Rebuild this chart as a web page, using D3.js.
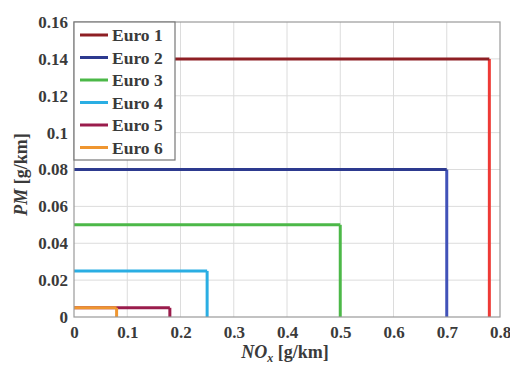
<!DOCTYPE html>
<html>
<head>
<meta charset="utf-8">
<script src="https://cdn.jsdelivr.net/npm/d3@7"></script>
<style>
  body { margin: 0; background: #fff; }
</style>
</head>
<body>
<svg id="chart" width="510" height="365"></svg>
<script>
const labels = ["Euro 1", "Euro 2", "Euro 3", "Euro 4", "Euro 5", "Euro 6"]
const noxLimits = [0.78, 0.7, 0.5, 0.25, 0.18, 0.08]
const pmLimits = [0.14, 0.08, 0.05, 0.025, 0.005, 0.005]
const colours = ["#8e1f24", "#2d3a8f", "#4cb848", "#2aaee3", "#9a1c4c", "#ef9630"]
const verticalColours = ["#ee3a36", "#4152b8", "#4cb848", "#2aaee3", "#9a1c4c", "#ef9630"]
const xTicks = [0, 0.1, 0.2, 0.3, 0.4, 0.5, 0.6, 0.7, 0.8]
const yTicks = [0, 0.02, 0.04, 0.06, 0.08, 0.1, 0.12, 0.14, 0.16]

const font = "'Liberation Serif', 'Times New Roman', Times, serif"
const textColour = "#3a3a3a"

const margin = { left: 74, right: 10, top: 22, bottom: 48 }
const width = 510 - margin.left - margin.right
const height = 365 - margin.top - margin.bottom

const svg = d3.select("#chart")
const g = svg.append("g").attr("transform", `translate(${margin.left},${margin.top})`)

const x = d3.scaleLinear().domain([0, 0.8]).range([0, width])
const y = d3.scaleLinear().domain([0, 0.16]).range([height, 0])

// grid
g.append("g")
    .selectAll("line")
    .data(xTicks.slice(1, -1))
    .join("line")
    .attr("x1", (d) => x(d)).attr("x2", (d) => x(d))
    .attr("y1", 0).attr("y2", height)
    .attr("stroke", "#dcdcdc")
g.append("g")
    .selectAll("line")
    .data(yTicks.slice(1, -1))
    .join("line")
    .attr("y1", (d) => y(d)).attr("y2", (d) => y(d))
    .attr("x1", 0).attr("x2", width)
    .attr("stroke", "#dcdcdc")

// axes tick labels
const xAxis = g.append("g")
    .attr("transform", `translate(0,${height})`)
    .call(d3.axisBottom(x).tickValues(xTicks).tickSize(0).tickPadding(9).tickFormat(d3.format("")))
    .attr("font-family", font)
xAxis.select(".domain").remove()
xAxis.selectAll("text")
    .attr("font-family", font).attr("fill", textColour)
    .style("font-size", "17px").style("font-weight", "bold")

const yAxis = g.append("g")
    .call(d3.axisLeft(y).tickValues(yTicks).tickSize(0).tickPadding(6).tickFormat(d3.format("")))
    .attr("font-family", font)
yAxis.select(".domain").remove()
yAxis.selectAll("text")
    .attr("font-family", font).attr("fill", textColour)
    .style("font-size", "17px").style("font-weight", "bold")

// series
const series = labels.map((l, i) => ({ label: l, nox: noxLimits[i], pm: pmLimits[i], c: colours[i], vc: verticalColours[i] }))
const line = d3.line().x((d) => x(d[0])).y((d) => y(d[1]))
const sg = g.append("g").selectAll("g").data(series).join("g")
sg.append("path")
    .attr("fill", "none")
    .attr("stroke", (d) => d.vc)
    .attr("stroke-width", 3)
    .attr("d", (d) => line([[d.nox, d.pm], [d.nox, 0]]))
sg.append("path")
    .attr("fill", "none")
    .attr("stroke", (d) => d.c)
    .attr("stroke-width", 3)
    .attr("d", (d) => line([[0, d.pm], [d.nox, d.pm]]))

// frame
g.append("rect")
    .attr("width", width).attr("height", height)
    .attr("fill", "none").attr("stroke", "#9a9a9a").attr("stroke-width", 1.2)

// legend
const lg = g.append("g")
lg.append("rect")
    .attr("x", 0).attr("y", 0).attr("width", 101).attr("height", 138)
    .attr("fill", "#fff").attr("stroke", "#777").attr("stroke-width", 1.2)
const items = lg.selectAll("g").data(series).join("g")
    .attr("transform", (d, i) => `translate(0,${13 + i * 22.5})`)
items.append("line")
    .attr("x1", 6).attr("x2", 34).attr("y1", 0).attr("y2", 0)
    .attr("stroke", (d) => d.c).attr("stroke-width", 3)
items.append("text")
    .attr("x", 38).attr("y", 6)
    .attr("font-family", font).attr("fill", textColour)
    .style("font-size", "17.5px").style("font-weight", "bold")
    .text((d) => d.label)

// axis labels
const xl = svg.append("text")
    .attr("x", margin.left + width / 2 - 2).attr("y", 358)
    .attr("text-anchor", "middle")
    .attr("font-family", font).attr("fill", textColour)
    .style("font-size", "18px").style("font-weight", "bold")
xl.append("tspan").style("font-style", "italic").text("NO")
xl.append("tspan").style("font-style", "italic").style("font-size", "12px").attr("dy", 4).text("x")
xl.append("tspan").attr("dy", -4).text(" [g/km]")

svg.append("text")
    .attr("transform", `translate(27,${margin.top + height / 2 + 5}) rotate(-90)`)
    .attr("text-anchor", "middle")
    .attr("font-family", font).attr("fill", textColour)
    .style("font-size", "18px").style("font-weight", "bold")
    .call((t) => {
        t.append("tspan").style("font-style", "italic").text("PM")
        t.append("tspan").text(" [g/km]")
    })
</script>
</body>
</html>
